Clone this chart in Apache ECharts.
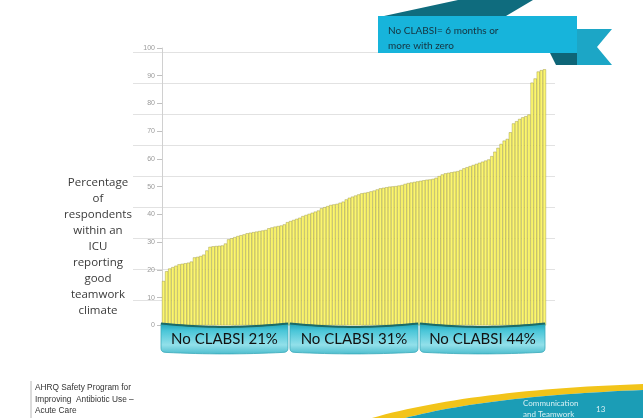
<!DOCTYPE html>
<html>
<head>
<meta charset="utf-8">
<script src="https://cdn.jsdelivr.net/npm/echarts@6/dist/echarts.min.js"></script>
<style>
html,body{margin:0;padding:0;background:#fff;}
#main{width:643px;height:418px;}
</style>
</head>
<body>
<div id="main"></div>
<script>
// ---- data ----
var units = [];
var teamworkPct = [
  16, 19.5, 20.5, 21, 21.5, 22, 22.2, 22.4, 22.6, 23,
  24.5, 24.7, 25, 25.5, 27, 28.3, 28.5, 28.6, 28.7, 28.8,
  29.5, 31, 31.4, 31.8, 32.2, 32.5, 32.8, 33.2, 33.4, 33.6,
  33.8, 34, 34.2, 34.4, 35, 35.3, 35.6, 35.8, 36, 36.4,
  37.2, 37.6, 38, 38.4, 38.8, 39.4, 39.8, 40.2, 40.6, 41,
  41.4, 42.2, 42.6, 43, 43.4, 43.6, 43.8, 44.2, 44.6, 45.4,
  46, 46.4, 46.8, 47.2, 47.6, 47.8, 48, 48.3, 48.6, 49,
  49.4, 49.6, 49.8, 50, 50.1, 50.2, 50.4, 50.6, 51, 51.3,
  51.5, 51.7, 51.9, 52.1, 52.3, 52.5, 52.6, 52.8, 53.2, 53.8,
  54.4, 54.8, 55, 55.2, 55.4, 55.6, 56, 56.6, 57, 57.4,
  57.8, 58.2, 58.6, 59, 59.4, 59.8, 61, 62.6, 64, 65.4,
  66.6, 67.2, 69.6, 72.8, 73.6, 74.4, 75, 75.4, 76, 87.5,
  89, 91.5, 92, 92.3
];
for (var i = 0; i < teamworkPct.length; i++) units.push('ICU ' + (i + 1));
var yTicks = [0, 10, 20, 30, 40, 50, 60, 70, 80, 90, 100];
var groupLabels = ['No CLABSI 21%', 'No CLABSI 31%', 'No CLABSI 44%'];
var groupStart = [0, 41, 83];
var groupEnd = [40, 82, 123];
var axisTitleLines = ['Percentage', 'of', 'respondents', 'within an', 'ICU', 'reporting', 'good', 'teamwork', 'climate'];
var noteLines = ['No CLABSI= 6 months or', 'more with zero'];
var footerLines = ['AHRQ Safety Program for', 'Improving  Antibiotic Use \u2013', 'Acute Care'];

var chart = echarts.init(document.getElementById('main'));
var option = {
  animation: false,
  backgroundColor: '#ffffff',
  grid: [
    {left: 162, right: 97, top: 48, bottom: 92.6},
    {left: 133, right: 88, top: 52, height: 248}
  ],
  xAxis: [
    {type: 'category', gridIndex: 0, data: units, boundaryGap: true,
     axisLine: {show: false}, axisTick: {show: false}, axisLabel: {show: false}},
    {type: 'value', gridIndex: 1, min: 0, max: 1, show: false}
  ],
  yAxis: [
    {type: 'value', gridIndex: 0, min: yTicks[0], max: yTicks[yTicks.length - 1], interval: 10,
     axisLine: {show: true, lineStyle: {color: '#d0d0d0', width: 1}},
     axisTick: {show: true, length: 5, lineStyle: {color: '#c0c0c0'}},
     axisLabel: {color: '#9a9a9a', fontSize: 7, fontFamily: 'Liberation Sans', margin: 7},
     splitLine: {show: false}},
    {type: 'value', gridIndex: 1, min: 0, max: 8, interval: 1,
     axisLine: {show: false}, axisTick: {show: false}, axisLabel: {show: false},
     splitLine: {show: true, lineStyle: {color: '#e2e2e2', width: 1}}}
  ],
  series: [
    {type: 'bar', xAxisIndex: 0, yAxisIndex: 0, data: teamworkPct,
     barCategoryGap: '0%',
     itemStyle: {color: '#fcf66e', borderColor: '#8f8b3a', borderWidth: 0.4},
     z: 3},
    {type: 'line', xAxisIndex: 1, yAxisIndex: 1, data: [], silent: true}
  ]
};
chart.setOption(option);

function quad(p0, c, p1, n) {
  var pts = [];
  for (var t = 0; t <= n; t++) {
    var s = t / n, a = (1 - s) * (1 - s), b = 2 * (1 - s) * s, d = s * s;
    pts.push([a * p0[0] + b * c[0] + d * p1[0], a * p0[1] + b * c[1] + d * p1[1]]);
  }
  return pts;
}

(function () {
  var g = [];
  g.push({type: 'text', x: 98, y: 175, z: 10,
    style: {text: axisTitleLines.join('\n'), fill: '#3a3a3a', fontSize: 11.5, fontFamily: 'Open Sans',
            align: 'center', verticalAlign: 'top', lineHeight: 16}});

  var band = chart.convertToPixel({xAxisIndex: 0}, 1) - chart.convertToPixel({xAxisIndex: 0}, 0);
  var baseY = chart.convertToPixel({yAxisIndex: 0}, 0);
  for (var k = 0; k < groupLabels.length; k++) {
    var x0 = chart.convertToPixel({xAxisIndex: 0}, groupStart[k]) - band / 2 - (k === 0 ? 2 : 0) + 1;
    var x1 = chart.convertToPixel({xAxisIndex: 0}, groupEnd[k]) + band / 2 - 1;
    var y0 = baseY - 3, y1 = baseY + 27;
    var mid = (x0 + x1) / 2;
    var topPts = quad([x0, y0 + 1], [mid, y0 + 8], [x1, y0 + 1], 24);
    var pts = topPts.slice();
    pts = pts.concat(quad([x1, y1 - 4], [x1, y1], [x1 - 5, y1], 4));
    pts = pts.concat(quad([x1 - 5, y1], [mid, y1 + 3], [x0 + 5, y1], 16));
    pts = pts.concat(quad([x0 + 5, y1], [x0, y1], [x0, y1 - 4], 4));
    g.push({type: 'polygon', z: 8, shape: {points: pts},
      style: {fill: new echarts.graphic.LinearGradient(0, 0, 0, 1, [
        {offset: 0, color: '#1a9fb2'}, {offset: 0.25, color: '#4ac6d8'},
        {offset: 0.7, color: '#92e0ea'}, {offset: 1, color: '#4bbccd'}]),
        stroke: '#3aa9ba', lineWidth: 0.8}});
    g.push({type: 'polyline', z: 9, shape: {points: topPts},
      style: {fill: null, stroke: '#1c6a66', lineWidth: 2}});
    g.push({type: 'text', z: 10, x: mid, y: baseY + 14,
      style: {text: groupLabels[k], fill: '#111', fontSize: 15, fontFamily: 'Lato', align: 'center', verticalAlign: 'middle'}});
  }

  g.push({type: 'polygon', z: 5, shape: {points: [[384, 16], [458, 0], [533, 0], [506, 16]]}, style: {fill: '#0f6c7e'}});
  g.push({type: 'polygon', z: 5, shape: {points: [[577, 29], [612, 29], [597, 47], [612, 65], [556, 65], [577, 53]]}, style: {fill: '#1ca6c6'}});
  g.push({type: 'polygon', z: 6, shape: {points: [[550, 53], [577, 53], [577, 65], [556, 65]]}, style: {fill: '#0e6577'}});
  g.push({type: 'rect', z: 7, shape: {x: 378, y: 16, width: 199, height: 37}, style: {fill: '#17b4db'}});
  g.push({type: 'text', z: 10, x: 388, y: 23,
    style: {text: noteLines.join('\n'), fill: '#16323f', fontSize: 10, fontFamily: 'Lato', lineHeight: 15, verticalAlign: 'top'}});

  g.push({type: 'line', z: 5, shape: {x1: 31, y1: 381, x2: 31, y2: 418}, style: {stroke: '#b8b8b8', lineWidth: 1}});
  g.push({type: 'text', z: 10, x: 35, y: 382,
    style: {text: footerLines.join('\n'), fill: '#333', fontSize: 8.3, fontFamily: 'Liberation Sans', lineHeight: 11.5, verticalAlign: 'top'}});
  var yTop = quad([372, 418], [470, 390], [643, 384], 30);
  var yBot = quad([405, 418], [490, 396], [643, 390], 30);
  g.push({type: 'polygon', z: 5, shape: {points: yTop.concat(yBot.slice().reverse())}, style: {fill: '#f2c41a'}});
  g.push({type: 'polygon', z: 5, shape: {points: yBot.concat([[643, 418]])}, style: {fill: '#1b9db6'}});
  g.push({type: 'text', z: 10, x: 523, y: 398,
    style: {text: 'Communication\nand Teamwork', fill: '#d8f0f4', fontSize: 8, fontFamily: 'Lato', lineHeight: 11, verticalAlign: 'top'}});
  g.push({type: 'text', z: 10, x: 596, y: 405,
    style: {text: '13', fill: '#d8f0f4', fontSize: 8, fontFamily: 'Lato', verticalAlign: 'top'}});

  chart.setOption({graphic: g});
})();
</script>
</body>
</html>
